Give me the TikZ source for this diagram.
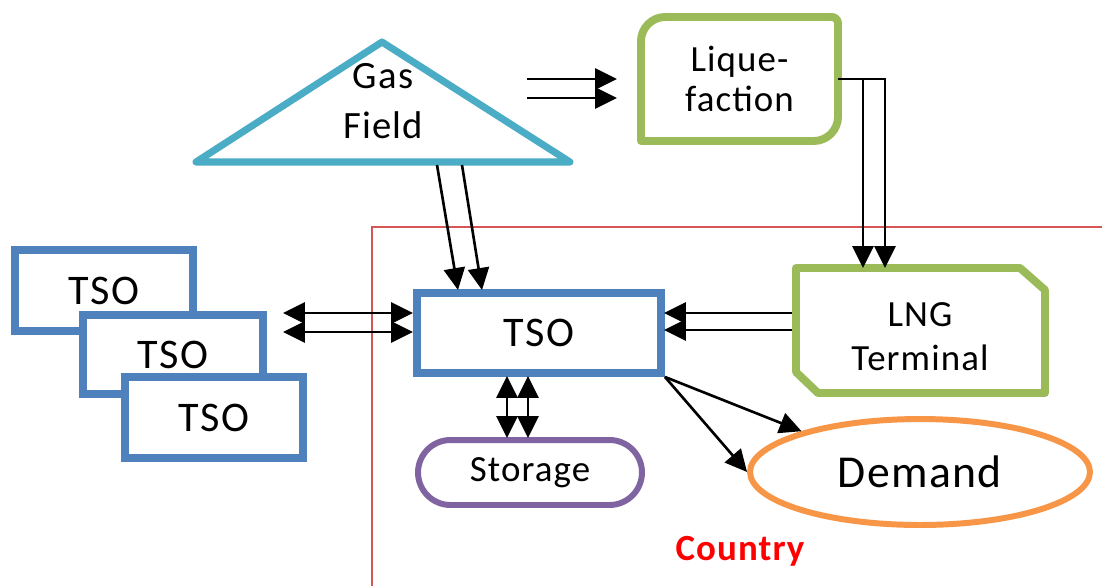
\documentclass[tikz,border=0pt]{standalone}
\usepackage{fontspec}
\setmainfont{Carlito}[LetterSpace=3]
\usetikzlibrary{arrows.meta,shapes.geometric,shapes.misc,calc}
\definecolor{tsoblue}{RGB}{79,129,189}
\definecolor{lnggreen}{RGB}{155,187,89}
\definecolor{fieldcyan}{RGB}{75,172,198}
\definecolor{storpurple}{RGB}{128,100,162}
\definecolor{demorange}{RGB}{247,150,70}
\definecolor{countryline}{RGB}{214,86,86}
\definecolor{countryred}{RGB}{255,0,0}
\begin{document}
\begin{tikzpicture}[x=0.02cm,y=-0.02cm,
  box/.style={draw=tsoblue, line width=4.5pt, fill=white, rectangle, inner sep=0pt,
    minimum width=3.56cm, minimum height=1.62cm, font=\fontsize{24}{29}\selectfont},
  lbl/.style={inner sep=0pt, align=center, text=black},
  flow/.style={-{Triangle[length=12.5pt,width=12pt]}, line width=1.5pt, black},
  biflow/.style={{Triangle[length=12.5pt,width=12pt]}-{Triangle[length=12.5pt,width=12pt]}, line width=1.5pt, black},
  greenline/.style={draw=lnggreen, line width=4.5pt, line join=round, fill=white},
]
\useasboundingbox (0,0) rectangle (1102,585);

% country frame
\draw[countryline, line width=0.8pt] (372,600) -- (372,227) -- (1110,227);
\node[lbl, font=\bfseries\fontsize{21}{25}\selectfont, text=countryred, anchor=base] (country) at (740,560) {Country};

% gas field
\coordinate (gasapex) at (382,42);
\coordinate (gasL) at (196,162);
\coordinate (gasR) at (570,162);
\draw[fieldcyan, line width=4pt, line join=round, fill=white] (gasapex) -- (gasR) -- (gasL) -- cycle;
\node[lbl, font=\fontsize{22}{28}\selectfont] (gas) at (383,101) {Gas\\Field};

% liquefaction
\draw[greenline] (641,141) -- (641,41) .. controls (641,28) and (652,17) .. (665,17) -- (832,17)
  .. controls (835,17) and (838,20) .. (838,23) -- (838,117) .. controls (838,130) and (827,141) .. (814,141) -- cycle;
\node[lbl, minimum width=3.94cm, minimum height=2.48cm, font=\fontsize{21}{23}\selectfont] (liq) at (739.5,79) {Lique-\\faction};

% LNG terminal
\draw[greenline] (796,268) -- (1020,268) -- (1045,290) -- (1045,393) -- (818,393) -- (796,372) -- cycle;
\node[lbl, font=\fontsize{21}{25}\selectfont] (lng) at (920,337) {LNG\\Terminal};

% left TSO stack
\node[box, minimum width=3.56cm, minimum height=1.62cm] (tso1) at (104,290.5) {TSO};
\node[box, minimum width=3.6cm, minimum height=1.58cm] (tso2) at (173,354.5) {TSO};
\node[box, minimum width=3.56cm, minimum height=1.62cm, text depth=0pt] (tso3) at (214,417.5) {TSO};

% main TSO
\node[box, minimum width=4.88cm, minimum height=1.6cm] (tso) at (539,333) {TSO};

% storage
\node[draw=storpurple, line width=3.4pt, fill=white, rounded rectangle, inner sep=0pt,
  minimum width=4.48cm, minimum height=1.3cm, font=\fontsize{21}{25}\selectfont] (stor) at (530,472.5) {Storage};

% demand
\node[draw=demorange, line width=3.4pt, fill=white, ellipse, inner sep=0pt,
  minimum width=6.8cm, minimum height=2.12cm, font=\fontsize{26}{31}\selectfont] (dem) at (920,472) {Demand};

% connectors
\coordinate (gl1) at (527,79);
\coordinate (gl2) at (527,98);
\draw[flow] (gl1) -- (gl1 -| 617,0);
\draw[flow] (gl2) -- (gl2 -| 617,0);

\draw[flow] (liq.east) -| (863,268);
\draw[flow] (liq.east) -| (885,268);

\coordinate (gt1) at (437,165);
\coordinate (gt2) at (462,165);
\draw[flow] (gt1) -- (458,290);
\draw[flow] (gt2) -- (482,290);

\coordinate (ex1) at (283,313);
\coordinate (ex2) at (283,332);
\draw[biflow] (ex1) -- (ex1 -| tso.west);
\draw[biflow] (ex2) -- (ex2 -| tso.west);

\draw[flow] (792,313) -- (664,313);
\draw[flow] (792,330) -- (664,330);

\draw[biflow] (507,376) -- (507,438);
\draw[biflow] (528,376) -- (528,438);

\draw[flow] (tso.south east) -- (dem.161);
\draw[flow] (tso.south east) -- (dem.west);
\end{tikzpicture}
\end{document}
